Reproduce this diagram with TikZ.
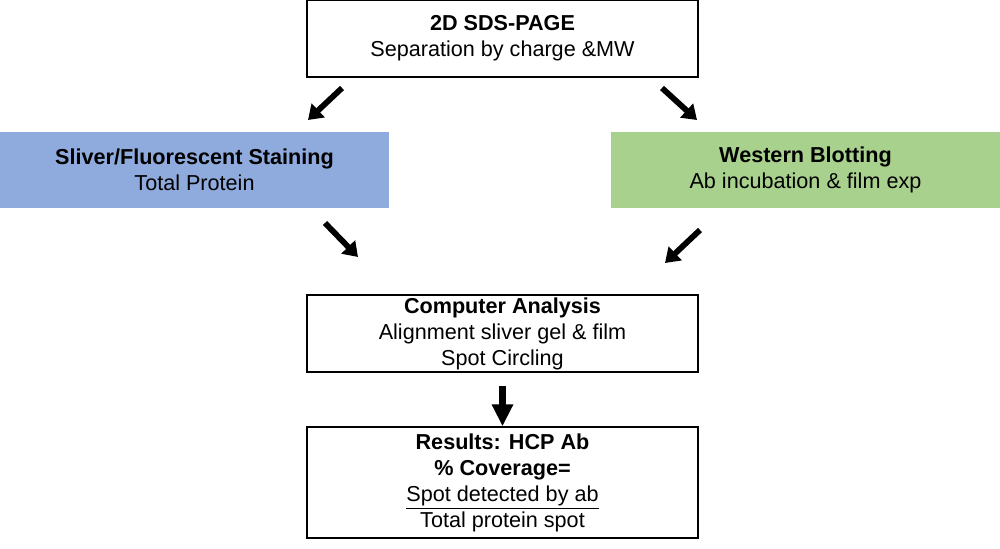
\documentclass[tikz,border=0pt]{standalone}
\usepackage{fontspec}
\setmainfont{Liberation Sans}
\usetikzlibrary{arrows.meta}
\definecolor{colorStain}{HTML}{8FAADC}
\definecolor{colorWB}{HTML}{A9D18E}
\tikzset{
   every path/.style={>=stealth},
   every node/.style={font=\fontsize{12.3}{14.8}\selectfont, align=center, inner sep=0pt},
   stepbox/.style={draw=black, line width=0.8pt, minimum width=7.82cm, minimum height=1.54cm},
   stain/.style={fill=colorStain, minimum width=7.78cm, minimum height=1.52cm},
   wb/.style={fill=colorWB, minimum width=7.78cm, minimum height=1.52cm},
   flow/.style={-{Triangle[length=8pt,width=10.5pt]}, line width=3.3pt},
   down/.style={-{Triangle[length=12.5pt,width=11.5pt]}, line width=4.5pt},
 }
\begin{document}
\begin{tikzpicture}[yscale=1,xscale=1]
      \useasboundingbox (0,0) rectangle (20,-10.98);

      \node[stepbox] (sds) at (10.05,-0.77) {\textbf{2D SDS-PAGE}\\Separation by charge \&MW};

      \node[stain] (stain) at (3.89,-3.40) {\textbf{Sliver/Fluorescent Staining}\\Total Protein};
      \node[wb] (blot) at (16.11,-3.40) {\textbf{Western Blotting}\\Ab incubation \& film exp};

      \node[stepbox] (comp) at (10.05,-6.67) {\textbf{Computer Analysis}\\Alignment sliver gel \& film\\Spot Circling};
      \node[stepbox, minimum height=2.22cm] (res) at (10.05,-9.65) {\textbf{Results: HCP Ab}\\\textbf{\% Coverage=}\\\underline{Spot detected by ab}\\Total protein spot};

      % floating arrows between the rows
      \coordinate (sdsL) at (6.84,-1.76);  \coordinate (stainT) at (6.16,-2.40);
      \coordinate (sdsR) at (13.24,-1.76); \coordinate (blotT) at (13.94,-2.40);
      \coordinate (stainB) at (6.50,-4.46); \coordinate (compL) at (7.16,-5.14);
      \coordinate (blotB) at (14.00,-4.60); \coordinate (compR) at (13.30,-5.26);
      \draw[flow] (sdsL) -- (stainT);
      \draw[flow] (sdsR) -- (blotT);
      \draw[flow] (stainB) -- (compL);
      \draw[flow] (blotB) -- (compR);
      \draw[down, shorten <=0.26cm] (comp.south) -- (res.north);
    \end{tikzpicture}
\end{document}
